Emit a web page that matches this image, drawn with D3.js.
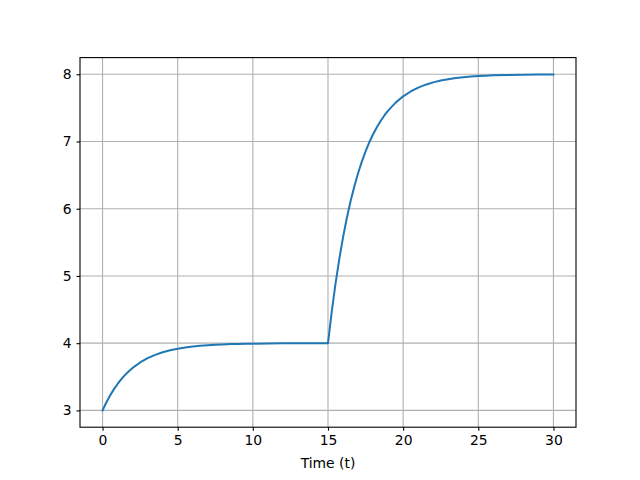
<!DOCTYPE html>
<html>
<head>
<meta charset="utf-8">
<script src="https://cdn.jsdelivr.net/npm/d3@7"></script>
<style>
html,body{margin:0;padding:0;background:#fff;}
svg{display:block;}
text{font-family:"DejaVu Sans",sans-serif;}
</style>
</head>
<body>
<svg id="chart" width="640" height="480"></svg>
<script>
// Data
const timeValues = [0,0.25,0.5,0.75,1,1.25,1.5,1.75,2,2.5,3,3.5,4,4.5,5,5.5,6,6.5,7,7.5,8,8.5,9,9.5,10,11,12,13,14,15,
  15.25,15.5,15.75,16,16.25,16.5,16.75,17,17.25,17.5,17.75,18,18.25,18.5,18.75,19,19.5,20,20.5,21,21.5,22,22.5,23,23.5,24,24.5,25,25.5,26,27,28,29,30];
const outputValues = [3.000,3.118,3.221,3.313,3.393,3.465,3.528,3.583,3.632,3.713,3.777,3.826,3.865,3.895,3.918,3.936,3.950,3.961,3.970,3.976,3.982,3.986,3.989,3.991,3.993,3.996,3.998,3.998,3.999,3.999,
  4.470,4.885,5.251,5.574,5.859,6.110,6.332,6.528,6.701,6.854,6.989,7.108,7.212,7.305,7.387,7.459,7.578,7.672,7.744,7.801,7.845,7.879,7.906,7.927,7.943,7.956,7.966,7.973,7.979,7.984,7.990,7.994,7.996,7.998];
const xTicks = [0,5,10,15,20,25,30];
const yTicks = [3,4,5,6,7,8];
const xLabel = "Time (t)";

const svg = d3.select("#chart");
const mLeft = 80, mRight = 576, mTop = 57.6, mBottom = 427.2;

const xMin = d3.min(timeValues), xMax = d3.max(timeValues);
const xPad = (xMax - xMin) * 0.05;
const yMin = d3.min(outputValues), yMax = d3.max(outputValues);
const yPad = (yMax - yMin) * 0.05;

const x = d3.scaleLinear().domain([xMin - xPad, xMax + xPad]).range([mLeft, mRight]);
const y = d3.scaleLinear().domain([yMin - yPad, yMax + yPad]).range([mBottom, mTop]);

// grid
const grid = svg.append("g");
grid.selectAll(".gx").data(xTicks).enter().append("line")
  .attr("x1", d => x(d)).attr("x2", d => x(d)).attr("y1", mTop).attr("y2", mBottom)
  .attr("stroke", "#b0b0b0").attr("stroke-width", 1.1);
grid.selectAll(".gy").data(yTicks).enter().append("line")
  .attr("y1", d => y(d)).attr("y2", d => y(d)).attr("x1", mLeft).attr("x2", mRight)
  .attr("stroke", "#b0b0b0").attr("stroke-width", 1.1);

// line
const data = timeValues.map((t, i) => [t, outputValues[i]]);
svg.append("path").datum(data)
  .attr("fill", "none").attr("stroke", "#1f77b4").attr("stroke-width", 2)
  .attr("stroke-linejoin", "round").attr("stroke-linecap", "square")
  .attr("d", d3.line().x(d => x(d[0])).y(d => y(d[1])));

// axes
const xAxis = d3.axisBottom(x).tickValues(xTicks).tickSize(3.5).tickPadding(4.9).tickFormat(d3.format("d"));
const yAxis = d3.axisLeft(y).tickValues(yTicks).tickSize(3.5).tickPadding(4.9).tickFormat(d3.format("d"));
const gx = svg.append("g").attr("transform", `translate(0,${mBottom})`).call(xAxis);
const gy = svg.append("g").attr("transform", `translate(${mLeft},0)`).call(yAxis);
[gx, gy].forEach(g => {
  g.select(".domain").remove();
  g.selectAll(".tick line").attr("stroke", "#000").attr("stroke-width", 1.1);
  g.selectAll(".tick text").attr("fill", "#000").style("font-size", "13.9px").style("font-family", "DejaVu Sans");
});

// frame
svg.append("rect").attr("x", mLeft).attr("y", mTop).attr("width", mRight - mLeft).attr("height", mBottom - mTop)
  .attr("fill", "none").attr("stroke", "#000").attr("stroke-width", 1.1);

svg.append("text").attr("x", (mLeft + mRight) / 2).attr("y", 468)
  .attr("text-anchor", "middle").style("font-size", "13.9px").attr("fill", "#000").text(xLabel);
</script>
</body>
</html>
